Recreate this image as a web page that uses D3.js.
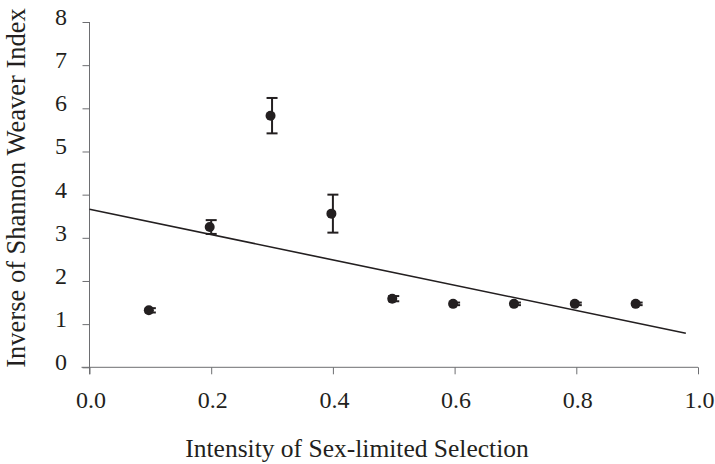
<!DOCTYPE html>
<html>
<head>
<meta charset="utf-8">
<script src="https://cdn.jsdelivr.net/npm/d3@7"></script>
<style>
  body { margin: 0; background: #fff; }
  svg text { font-family: "Liberation Serif", "Times New Roman", serif; fill: #231f20; }
</style>
</head>
<body>
<svg id="chart" width="715" height="464"></svg>
<script>
// Selection intensity levels and mean inverse Shannon-Weaver index
const intensity = [0.1, 0.2, 0.3, 0.4, 0.5, 0.6, 0.7, 0.8, 0.9];
const meanIndex = [1.32, 3.25, 5.83, 3.56, 1.59, 1.47, 1.47, 1.47, 1.47];
const stdError  = [0.05, 0.16, 0.41, 0.44, 0.06, 0.03, 0.03, 0.03, 0.03];

// Fitted linear trend: index = intercept + slope * intensity
const trendIntercept = 3.66;
const trendSlope = -2.93;
const trendRange = [0.0, 0.98];

const xTicks = [0.0, 0.2, 0.4, 0.6, 0.8, 1.0];
const yTicks = [0, 1, 2, 3, 4, 5, 6, 7, 8];

const svg = d3.select("#chart");
const x = d3.scaleLinear().domain([0, 1]).range([89.5, 698]);
const y = d3.scaleLinear().domain([0, 8]).range([367.3, 22]);

const axisColor = "#6d6e71";
const ink = "#231f20";

// x axis
const gx = svg.append("g").attr("transform", `translate(0,${y(0)})`)
  .call(d3.axisBottom(x).tickValues(xTicks).tickFormat(d3.format(".1f"))
    .tickSizeInner(7).tickSizeOuter(0));
gx.select(".domain").attr("stroke", axisColor).attr("d", `M${x(0) - 8},0H${x(1)}`);
gx.selectAll(".tick line").attr("stroke", axisColor);
gx.selectAll(".tick text").attr("font-size", 24).attr("fill", ink)
  .attr("y", 408 - y(0)).attr("dy", 0).attr("dx", 1);

// y axis
const gy = svg.append("g").attr("transform", `translate(${x(0)},0)`)
  .call(d3.axisLeft(y).tickValues(yTicks).tickFormat(d3.format("d"))
    .tickSizeInner(7).tickSizeOuter(0));
gy.select(".domain").attr("stroke", axisColor).attr("d", `M0,${y(0) + 7}V${y(8)}`);
gy.selectAll(".tick line").attr("stroke", axisColor);
gy.selectAll(".tick text").attr("font-size", 24).attr("fill", ink)
  .attr("x", -22.5).attr("y", 2.5).attr("dy", 0);

// trend line
svg.append("line")
  .attr("x1", x(trendRange[0])).attr("y1", y(trendIntercept + trendSlope * trendRange[0]))
  .attr("x2", x(trendRange[1])).attr("y2", y(trendIntercept + trendSlope * trendRange[1]))
  .attr("stroke", ink).attr("stroke-width", 1.6);

const pts = intensity.map((d, i) => ({ x: d, m: meanIndex[i], se: stdError[i] }));

// error bars
const eb = svg.append("g").selectAll("g").data(pts).join("g");
eb.append("line")
  .attr("x1", d => x(d.x)).attr("x2", d => x(d.x))
  .attr("y1", d => y(d.m + d.se)).attr("y2", d => y(d.m - d.se))
  .attr("stroke", ink).attr("stroke-width", 2);
eb.selectAll("line.cap").data(d => [[d.x, d.m + d.se], [d.x, d.m - d.se]]).join("line")
  .attr("class", "cap")
  .attr("x1", d => x(d[0]) - 5.5).attr("x2", d => x(d[0]) + 5.5)
  .attr("y1", d => y(d[1])).attr("y2", d => y(d[1]))
  .attr("stroke", ink).attr("stroke-width", 2);

// means
svg.append("g").selectAll("circle").data(pts).join("circle")
  .attr("cx", d => x(d.x) - 1.5).attr("cy", d => y(d.m)).attr("r", 5)
  .attr("fill", ink);

// axis titles
svg.append("text").attr("x", 357).attr("y", 457).attr("text-anchor", "middle")
  .attr("font-size", 25.5).text("Intensity of Sex-limited Selection");
svg.append("text").attr("transform", "translate(25,188) rotate(-90)")
  .attr("text-anchor", "middle").attr("font-size", 26.5)
  .text("Inverse of Shannon Weaver Index");
</script>
</body>
</html>
